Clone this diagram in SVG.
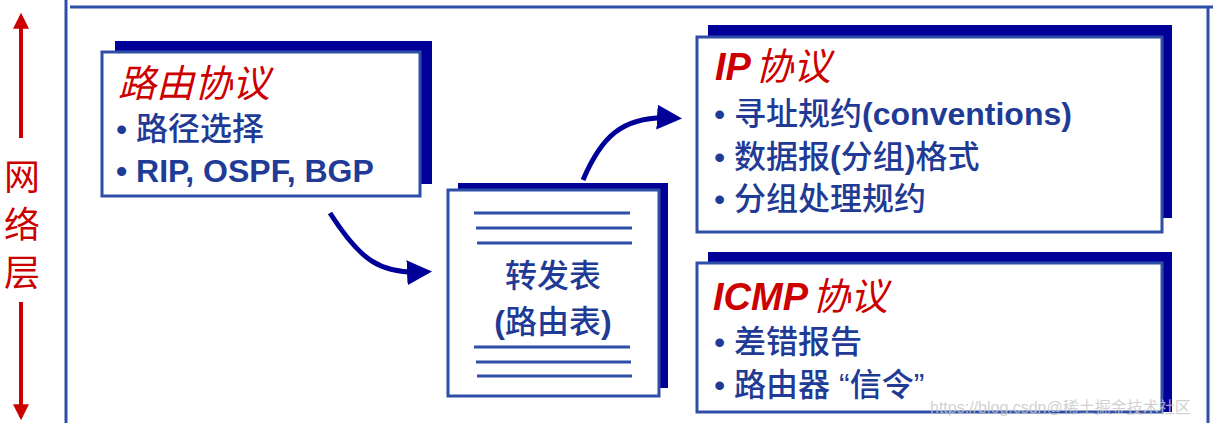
<svg xmlns="http://www.w3.org/2000/svg" width="1213" height="423" viewBox="0 0 1213 423">
<defs>
<style>
.sh{fill:#000099}
.bx{fill:#fff;stroke:#2e4ea8;stroke-width:3}
.t{font-family:"Liberation Sans","Noto Sans CJK SC",sans-serif;fill:#1f3b95;font-size:32px;font-weight:500}
.b{font-weight:bold}
.h{font-family:"Liberation Sans","Noto Sans CJK SC",sans-serif;fill:#cc0000;font-size:38px;font-style:italic;font-weight:bold}
.hc{font-weight:normal}
.red{font-family:"Noto Sans CJK SC",sans-serif;fill:#cc0000;font-size:36px}
.ln{stroke:#2e4ea8;stroke-width:3}
.cn{fill:none;stroke:#000099;stroke-width:5}
</style>
<marker id="ah" viewBox="0 0 10 10" refX="6" refY="5" markerWidth="5" markerHeight="5" orient="auto" markerUnits="strokeWidth"><path d="M0,0 L10,5 L0,10 z" fill="#000099"/></marker>
<marker id="rh" viewBox="0 0 10 10" refX="8" refY="5" markerWidth="4" markerHeight="4" orient="auto" markerUnits="strokeWidth"><path d="M0,0 L10,5 L0,10 z" fill="#cc0000"/></marker>
</defs>
<rect width="1213" height="423" fill="#fff"/>
<g id="frame" fill="none" stroke="#2e4ea8" stroke-width="3">
<line x1="66" y1="0" x2="66" y2="423"/>
<line x1="70" y1="7" x2="1213" y2="7"/>
<line x1="1208" y1="7" x2="1208" y2="423"/>
</g>
<g id="layer">
<line x1="21" y1="138" x2="21" y2="16" stroke="#cc0000" stroke-width="4" marker-end="url(#rh)"/>
<line x1="21" y1="302" x2="21" y2="417" stroke="#cc0000" stroke-width="4" marker-end="url(#rh)"/>
<text class="red" x="22" y="190" text-anchor="middle">网</text>
<text class="red" x="22" y="238" text-anchor="middle">络</text>
<text class="red" x="22" y="286" text-anchor="middle">层</text>
</g>
<g id="routing">
<rect class="sh" x="115" y="41" width="317" height="143"/>
<rect class="bx" x="102" y="52" width="318" height="144"/>
<text class="h hc" x="118" y="97">路由协议</text>
<text class="t" x="116" y="140">• 路径选择</text>
<text class="t b" x="116" y="182">• RIP, OSPF, BGP</text>
</g>
<g id="table">
<rect class="sh" x="458" y="183" width="210" height="205"/>
<rect class="bx" x="448" y="190" width="211" height="206"/>
<g class="ln"><line x1="474" y1="213" x2="630" y2="213"/><line x1="476" y1="228" x2="632" y2="228"/><line x1="477" y1="243" x2="632" y2="243"/><line x1="474" y1="347" x2="630" y2="347"/><line x1="476" y1="362" x2="631" y2="362"/><line x1="477" y1="376" x2="632" y2="376"/></g>
<text class="t" x="553" y="287" text-anchor="middle" font-size="36">转发表</text>
<text class="t" x="553" y="333" text-anchor="middle" font-size="36"><tspan class="b">(</tspan>路由表<tspan class="b">)</tspan></text>
</g>
<g id="ip">
<rect class="sh" x="708" y="25" width="464" height="193"/>
<rect class="bx" x="697" y="37" width="465" height="195"/>
<text class="h" x="715" y="80">IP<tspan class="hc" dx="4">协议</tspan></text>
<text class="t" x="714" y="125">• 寻址规约<tspan class="b">(conventions)</tspan></text>
<text class="t" x="714" y="168">• 数据报<tspan class="b">(</tspan>分组<tspan class="b">)</tspan>格式</text>
<text class="t" x="714" y="210">• 分组处理规约</text>
</g>
<g id="icmp">
<rect class="sh" x="708" y="252" width="464" height="160"/>
<rect class="bx" x="697" y="263" width="465" height="149"/>
<text class="h" x="713" y="310">ICMP<tspan class="hc" dx="4">协议</tspan></text>
<text class="t" x="714" y="353">• 差错报告</text>
<text class="t" x="714" y="396">• 路由器 “信令”</text>
</g>
<g id="connectors">
<path class="cn" d="M330,213 C360,260 380,274 422,272" marker-end="url(#ah)"/>
<path class="cn" d="M583,180 C600,140 620,115 672,118" marker-end="url(#ah)"/>
</g>
<text x="930" y="413" font-family="Liberation Sans,Noto Sans CJK SC,sans-serif" font-size="16" fill="#c8c8c8" opacity="0.8">https://blog.csdn@稀土掘金技术社区</text>
</svg>
